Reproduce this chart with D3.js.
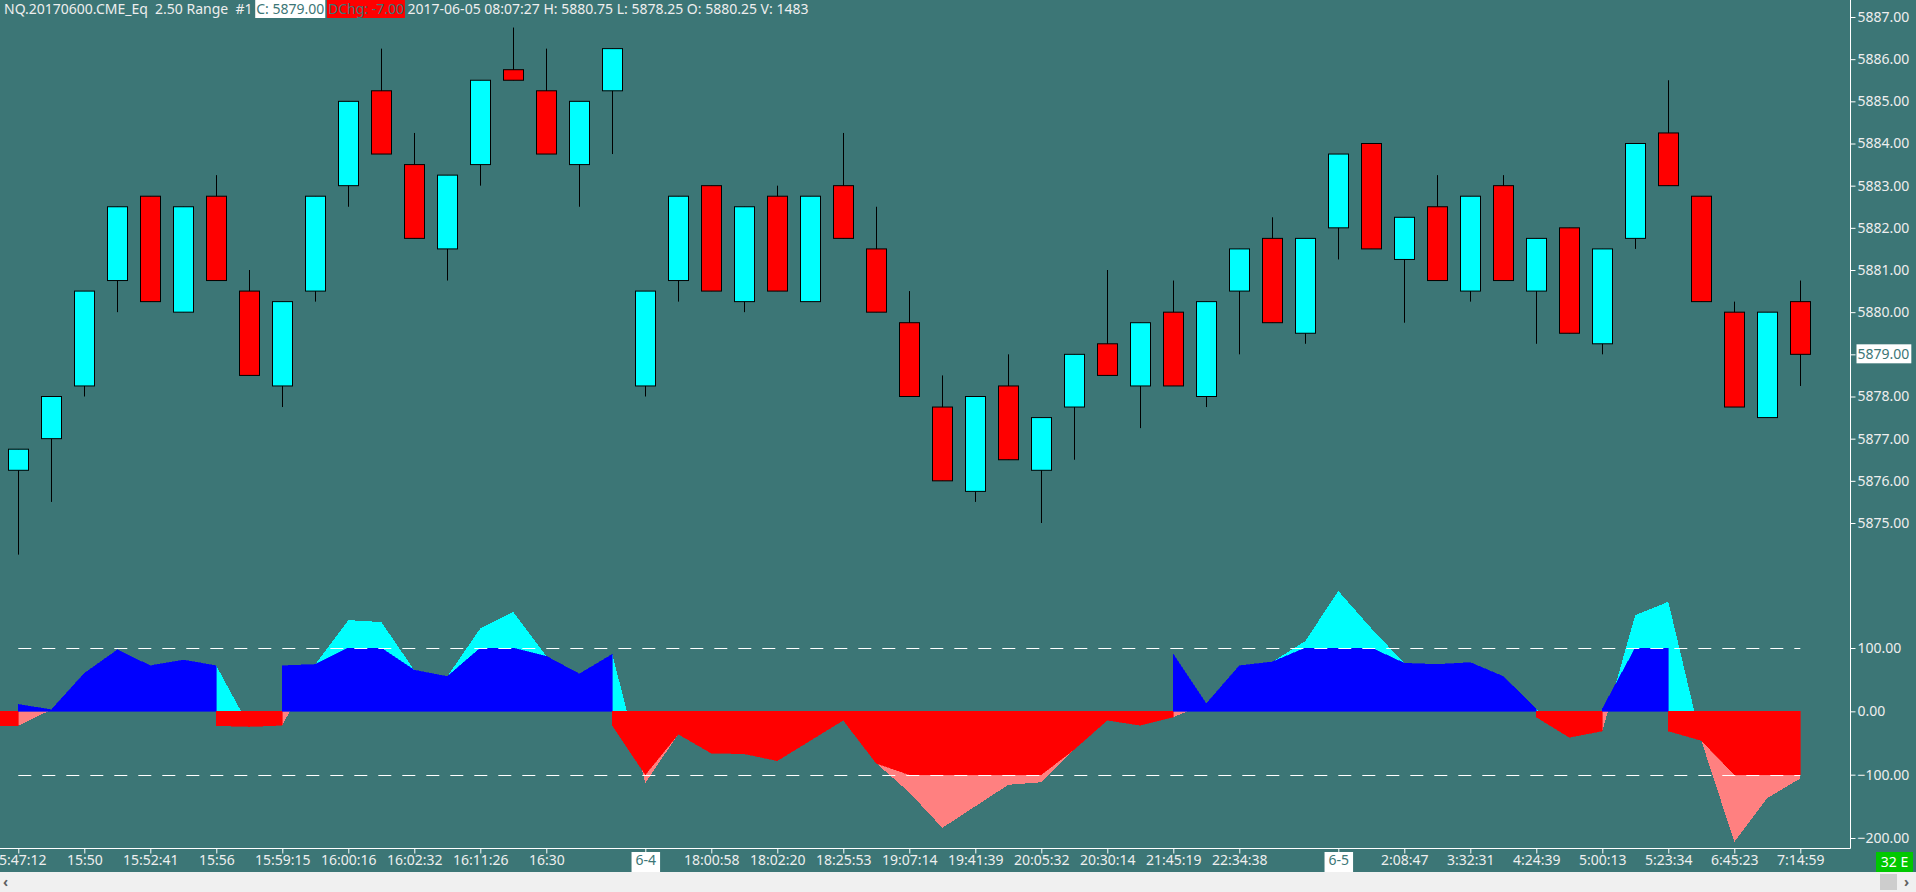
<!DOCTYPE html>
<html lang="en">
<head>
<meta charset="UTF-8">
<title>NQ 2.50 Range</title>
<script src="https://d3js.org/d3.v7.min.js"></script>
<style>
    body {
        margin: 0;
        background-color: #3c7676;
        overflow: hidden;
    }
    svg { display: block; }
    text {
        font-family: 'Noto Sans', 'Open Sans', sans-serif;
        font-size: 14px;
    }
    .axis text { fill: #eeeeee; }
    .axis line { stroke: #ffffff; }
    .axis path { display: none; }
</style>
</head>
<body>
<svg width="1916" height="892"></svg>
<script>
// ---- data ----
const opens  = [5876.25, 5877.00, 5878.25, 5880.75, 5882.75, 5880.00, 5882.75, 5880.50, 5878.25, 5880.50,
                5883.00, 5885.25, 5883.50, 5881.50, 5883.50, 5885.75, 5885.25, 5883.50, 5885.25, 5878.25,
                5880.75, 5883.00, 5880.25, 5882.75, 5880.25, 5883.00, 5881.50, 5879.75, 5877.75, 5875.75,
                5878.25, 5876.25, 5877.75, 5879.25, 5878.25, 5880.00, 5878.00, 5880.50, 5881.75, 5879.50,
                5882.00, 5884.00, 5881.25, 5882.50, 5880.50, 5883.00, 5880.50, 5882.00, 5879.25, 5881.75,
                5884.25, 5882.75, 5880.00, 5877.50, 5880.25];
const highs  = [5876.75, 5878.00, 5880.50, 5882.50, 5882.75, 5882.50, 5883.25, 5881.00, 5880.25, 5882.75,
                5885.00, 5886.25, 5884.25, 5883.25, 5885.50, 5886.75, 5886.25, 5885.00, 5886.25, 5880.50,
                5882.75, 5883.00, 5882.50, 5883.00, 5882.75, 5884.25, 5882.50, 5880.50, 5878.50, 5878.00,
                5879.00, 5877.50, 5879.00, 5881.00, 5879.75, 5880.75, 5880.25, 5881.50, 5882.25, 5881.75,
                5883.75, 5884.00, 5882.25, 5883.25, 5882.75, 5883.25, 5881.75, 5882.00, 5881.50, 5884.00,
                5885.50, 5882.75, 5880.25, 5880.00, 5880.75];
const lows   = [5874.25, 5875.50, 5878.00, 5880.00, 5880.25, 5880.00, 5880.75, 5878.50, 5877.75, 5880.25,
                5882.50, 5883.75, 5881.75, 5880.75, 5883.00, 5885.50, 5883.75, 5882.50, 5883.75, 5878.00,
                5880.25, 5880.50, 5880.00, 5880.50, 5880.25, 5881.75, 5880.00, 5878.00, 5876.00, 5875.50,
                5876.50, 5875.00, 5876.50, 5878.50, 5877.25, 5878.25, 5877.75, 5879.00, 5879.75, 5879.25,
                5881.25, 5881.50, 5879.75, 5880.75, 5880.25, 5880.75, 5879.25, 5879.50, 5879.00, 5881.50,
                5883.00, 5880.25, 5877.75, 5877.50, 5878.25];
const closes = [5876.75, 5878.00, 5880.50, 5882.50, 5880.25, 5882.50, 5880.75, 5878.50, 5880.25, 5882.75,
                5885.00, 5883.75, 5881.75, 5883.25, 5885.50, 5885.50, 5883.75, 5885.00, 5886.25, 5880.50,
                5882.75, 5880.50, 5882.50, 5880.50, 5882.75, 5881.75, 5880.00, 5878.00, 5876.00, 5878.00,
                5876.50, 5877.50, 5879.00, 5878.50, 5879.75, 5878.25, 5880.25, 5881.50, 5879.75, 5881.75,
                5883.75, 5881.50, 5882.25, 5880.75, 5882.75, 5880.75, 5881.75, 5879.50, 5881.50, 5884.00,
                5883.00, 5880.25, 5877.75, 5880.00, 5879.00];

// oscillator per bar, plus the values carried in from the bar before the first one
const oscValues = [-22.5, 2.5, 60, 97, 72, 81, 72, -24, -22, 74,
                   144, 141, 65, 55, 131, 157, 87, 59, 90, -113,
                   -36, -66, -67, -78, -46, -14, -82, -128, -184, -150,
                   -116, -112, -60, -14, -22, -9, 12, 72, 78, 111,
                   190, 131, 76, 74, 77, 55, 4, -41, -31, 152,
                   173, -46, -206, -137, -106];
const oscBefore = -22;
const posBefore = 11;
const negBefore = -22.5;

const priceTicks = [5875, 5876, 5877, 5878, 5879, 5880, 5881, 5882, 5883, 5884, 5885, 5886, 5887];
const oscTicks = [100, 0, -100, -200];
const lastPrice = 5879.00;

const timeBars = [0, 2, 4, 6, 8, 10, 12, 14, 16, 19, 21, 23, 25, 27, 29, 31, 33, 35, 37, 40, 42, 44, 46, 48, 50, 52, 54];
const timeLabels = ["15:47:12", "15:50", "15:52:41", "15:56", "15:59:15", "16:00:16", "16:02:32", "16:11:26", "16:30",
                    "6-4", "18:00:58", "18:02:20", "18:25:53", "19:07:14", "19:41:39", "20:05:32", "20:30:14",
                    "21:45:19", "22:34:38", "6-5", "2:08:47", "3:32:31", "4:24:39", "5:00:13", "5:23:34",
                    "6:45:23", "7:14:59"];
const dateLabels = ["6-4", "6-5"];

// ---- layout ----
const teal = "#3c7676";
const axisX = 1850, plotBottom = 848;

const svg = d3.select("svg");

const x = d3.scaleLinear().domain([0, 54]).range([18.3, 1800.3]);
const yPrice = d3.scaleLinear().domain([5875, 5887]).range([523, 17]);
const yOsc = d3.scaleLinear().domain([-200, 100]).range([838, 648]);

svg.append("rect").attr("width", 1916).attr("height", 892).attr("fill", teal);

// ---- oscillator ----
const osc = svg.append("g");
const zeroY = yOsc(0);

const defs = svg.append("defs");
defs.append("clipPath").attr("id", "above")
    .append("rect").attr("x", -50).attr("y", 0).attr("width", axisX + 50).attr("height", zeroY);
defs.append("clipPath").attr("id", "below")
    .append("rect").attr("x", -50).attr("y", zeroY).attr("width", axisX + 50).attr("height", plotBottom - zeroY);

const lightPts = [{i: -1, v: oscBefore}].concat(oscValues.map((v, i) => ({i, v})));
const lightArea = d3.area()
    .x(d => x(d.i))
    .y0(zeroY)
    .y1(d => yOsc(d.v));

osc.append("path").attr("d", lightArea(lightPts))
    .attr("fill", "#00ffff").attr("clip-path", "url(#above)")
    .attr("shape-rendering", "crispEdges");
osc.append("path").attr("d", lightArea(lightPts))
    .attr("fill", "#ff8080").attr("clip-path", "url(#below)")
    .attr("shape-rendering", "crispEdges");

// clamped part: each bar joins from the last value of the same sign
const darkSegs = [];
let prevPos = posBefore, prevNeg = negBefore;
oscValues.forEach((v, i) => {
    const d = Math.max(-100, Math.min(100, v));
    if (d > 0) {
        darkSegs.push({pts: [{i: i - 1, v: prevPos}, {i, v: d}], color: "#0000ff"});
        prevPos = d;
    } else {
        darkSegs.push({pts: [{i: i - 1, v: prevNeg}, {i, v: d}], color: "#ff0000"});
        prevNeg = d;
    }
});

osc.selectAll(".seg")
    .data(darkSegs)
    .join("path")
    .attr("class", "seg")
    .attr("d", s => lightArea(s.pts))
    .attr("fill", s => s.color)
    .attr("stroke", s => s.color)
    .attr("stroke-width", 0.6)
    .attr("shape-rendering", "crispEdges");

// +/-100 guide lines
osc.selectAll(".guide")
    .data([100, -100])
    .join("line")
    .attr("class", "guide")
    .attr("x1", x(0)).attr("x2", x(54))
    .attr("y1", d => Math.round(yOsc(d)) + 0.5)
    .attr("y2", d => Math.round(yOsc(d)) + 0.5)
    .attr("stroke", "#ffffff")
    .attr("stroke-width", 1)
    .attr("stroke-dasharray", "13,11");

// ---- candles ----
const bars = d3.range(opens.length).map(i => ({
    i, o: opens[i], h: highs[i], l: lows[i], c: closes[i]
}));

const candle = svg.append("g")
    .selectAll("g")
    .data(bars)
    .join("g");

candle.append("line")
    .attr("x1", d => Math.round(x(d.i)) + 0.5)
    .attr("x2", d => Math.round(x(d.i)) + 0.5)
    .attr("y1", d => yPrice(d.h))
    .attr("y2", d => yPrice(d.l))
    .attr("stroke", "#000")
    .attr("stroke-width", 1);

candle.append("rect")
    .attr("x", d => Math.round(x(d.i)) - 9.5)
    .attr("y", d => yPrice(Math.max(d.o, d.c)))
    .attr("width", 20)
    .attr("height", d => Math.abs(yPrice(d.o) - yPrice(d.c)))
    .attr("fill", d => d.c >= d.o ? "#00ffff" : "#ff0000")
    .attr("stroke", "#000")
    .attr("stroke-width", 1);

// ---- axes ----
svg.append("line")
    .attr("x1", axisX + 0.5).attr("x2", axisX + 0.5)
    .attr("y1", 0).attr("y2", plotBottom + 0.5)
    .attr("stroke", "#fff");
svg.append("line")
    .attr("x1", 0).attr("x2", axisX + 0.5)
    .attr("y1", plotBottom + 0.5).attr("y2", plotBottom + 0.5)
    .attr("stroke", "#fff");

const priceAxis = svg.append("g")
    .attr("class", "axis")
    .attr("transform", `translate(${axisX + 0.5},0)`)
    .call(d3.axisRight(yPrice).tickValues(priceTicks).tickSize(5).tickPadding(2)
        .tickFormat(d3.format(".2f")));

priceAxis.selectAll(".tick")
    .filter(d => d === lastPrice)
    .each(function () {
        const t = d3.select(this).select("text");
        const b = t.node().getBBox();
        d3.select(this).insert("rect", "text")
            .attr("x", b.x - 1).attr("y", b.y)
            .attr("width", b.width + 3).attr("height", b.height)
            .attr("fill", "#ffffff");
        t.style("fill", teal);
    });

svg.append("g")
    .attr("class", "axis")
    .attr("transform", `translate(${axisX + 0.5},0)`)
    .call(d3.axisRight(yOsc).tickValues(oscTicks).tickSize(5).tickPadding(2)
        .tickFormat(d3.format(".2f")));

const timeAxis = svg.append("g")
    .attr("class", "axis")
    .attr("transform", `translate(0,${plotBottom + 0.5})`)
    .call(d3.axisBottom(x).tickValues(timeBars).tickSize(5).tickPadding(2)
        .tickFormat((d, k) => timeLabels[k]));

timeAxis.selectAll(".tick")
    .filter((d, k) => dateLabels.includes(timeLabels[timeBars.indexOf(d)]))
    .each(function () {
        const t = d3.select(this).select("text");
        const b = t.node().getBBox();
        d3.select(this).insert("rect", "text")
            .attr("x", b.x - 4).attr("y", 3.5)
            .attr("width", b.width + 8).attr("height", 20)
            .attr("fill", "#ffffff");
        t.style("fill", teal);
    });

// ---- header ----
const header = [
    {t: "NQ.20170600.CME_Eq  2.50 Range  #1 ", fg: "#eeeeee"},
    {t: "C: 5879.00", fg: teal, bg: "#ffffff"},
    {t: " ", fg: "#eeeeee"},
    {t: "DChg: -7.00", fg: teal, bg: "#ff0000"},
    {t: " 2017-06-05 08:07:27 H: 5880.75 L: 5878.25 O: 5880.25 V: 1483", fg: "#eeeeee"}
];
const head = svg.append("g");
let hx = 4;
header.forEach(seg => {
    const t = head.append("text")
        .attr("x", hx).attr("y", 14)
        .attr("fill", seg.fg)
        .style("white-space", "pre")
        .text(seg.t);
    const w = t.node().getComputedTextLength();
    if (seg.bg) {
        head.insert("rect", "text")
            .attr("x", hx - 1).attr("y", 0)
            .attr("width", w + 2).attr("height", 18)
            .attr("fill", seg.bg);
    }
    hx += w;
});

// ---- status corner and scroll bar ----
svg.append("rect").attr("x", 1876).attr("y", 852).attr("width", 37).attr("height", 20).attr("fill", "#00c800");
svg.append("text").attr("x", 1894.5).attr("y", 867).attr("text-anchor", "middle")
    .attr("fill", "#ffffff").text("32 E");

svg.append("rect").attr("x", 0).attr("y", 872).attr("width", 1916).attr("height", 20).attr("fill", "#f0f0f0");
svg.append("rect").attr("x", 1880).attr("y", 874).attr("width", 17).attr("height", 16).attr("fill", "#cdcdcd");
svg.append("text").attr("x", 3).attr("y", 887).attr("fill", "#606060").style("font-weight", "bold").text("‹");
svg.append("text").attr("x", 1904).attr("y", 887).attr("fill", "#606060").style("font-weight", "bold").text("›");
</script>
</body>
</html>
